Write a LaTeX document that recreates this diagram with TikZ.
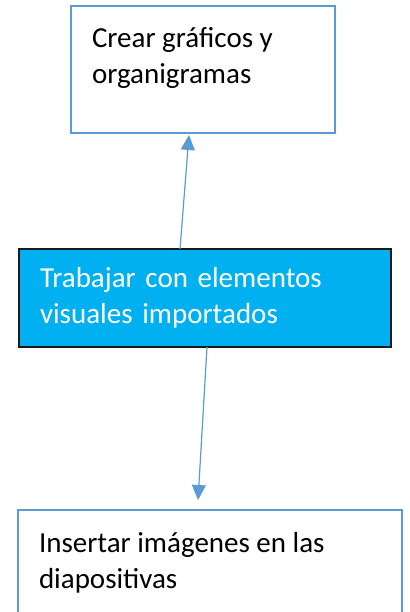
\documentclass[tikz,border=0pt]{standalone}
\usepackage{fontspec}
\setmainfont{Carlito}
\usetikzlibrary{positioning,arrows.meta}
\definecolor{boxblue}{HTML}{5B9BD5}
\definecolor{midcyan}{HTML}{00B0F0}
\tikzstyle{block} = [draw=boxblue, line width=2bp, fill=white, inner xsep=21bp, inner ysep=16.8bp, outer sep=0pt, font=\fontsize{29bp}{36bp}\selectfont]
\tikzstyle{midblock} = [draw=black!90, line width=1.5bp, fill=midcyan, text=white, inner xsep=21bp, inner ysep=0pt, outer sep=0pt, minimum height=98bp, text width=330bp, align=left, font=\fontsize{29bp}{36bp}\selectfont]
\tikzstyle{link} = [draw=boxblue, line width=1.2bp, -{Triangle[width=14bp,length=15bp]}]

\begin{document}
\begin{tikzpicture}[x=1bp, y=1bp]
        \useasboundingbox (0,0) rectangle (409,612);
        \clip (0,0) rectangle (409,612);
        %Blocks
        \node [midblock, anchor=north west] (trabajar) at (19,363) {Trabajar con elementos\\visuales importados};
        \node [block, above right = 116bp and 52bp of trabajar.north west] (crear) {\parbox[t][93.4bp][t]{222bp}{\strut Crear gráficos y\\organigramas}};
        \node [block, below right = 163bp and -1bp of trabajar.south west] (insertar) {\parbox[t][120bp][t]{342bp}{\strut Insertar imágenes en las\\diapositivas}};
        %Arrows
        \draw[link] ([xshift=-25bp]trabajar.north) -- ([xshift=-14bp, yshift=-2bp]crear.south);
        \draw[link] ([xshift=2bp]trabajar.south) -- ([xshift=-12bp, yshift=10bp]insertar.north);
    \end{tikzpicture}
\end{document}
